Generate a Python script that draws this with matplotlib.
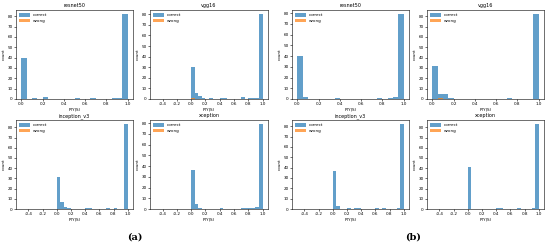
import numpy as np
import matplotlib
matplotlib.use("Agg")
import matplotlib.pyplot as plt

# 20 bins over P(Y|S) in [0, 1]
bin_edges = np.linspace(0, 1, 21)

titles = ["resnet50", "vgg16", "inception_v3", "xception"]

# panel (a): counts per bin, "correct"
a_resnet50 = [40, 0, 1, 0, 2, 0, 0, 0, 0, 0, 1, 0, 0, 1, 0, 0, 0, 1, 1, 82]
a_vgg16 = [30, 6, 3, 1, 0, 1, 0, 0, 1, 1, 0, 0, 0, 0, 2, 0, 1, 1, 1, 80]
a_inception = [31, 7, 2, 1, 0, 0, 0, 0, 1, 1, 0, 0, 0, 0, 1, 0, 1, 0, 0, 83]
a_xception = [36, 5, 1, 0, 0, 0, 0, 0, 1, 0, 0, 0, 0, 0, 1, 1, 1, 1, 2, 79]

# panel (b)
b_resnet50 = [40, 2, 0, 0, 0, 0, 0, 1, 0, 0, 0, 0, 0, 0, 0, 1, 0, 1, 2, 79]
b_vgg16 = [32, 5, 5, 1, 0, 0, 0, 0, 0, 0, 0, 0, 0, 0, 1, 0, 0, 0, 0, 82]
b_inception = [37, 3, 0, 0, 1, 0, 1, 1, 0, 0, 0, 0, 1, 0, 1, 0, 0, 0, 1, 82]
b_xception = [41, 0, 0, 0, 0, 0, 0, 0, 1, 1, 0, 0, 0, 0, 1, 0, 0, 0, 1, 83]

# "wrong" counts (almost empty)
a_wrong = [[0] * 20, [1] + [0] * 19, [0] * 20, [0] * 20]
b_wrong = [[0] * 20, [0, 1] + [0] * 18, [0] * 20, [0] * 20]

correct_a = [a_resnet50, a_vgg16, a_inception, a_xception]
correct_b = [b_resnet50, b_vgg16, b_inception, b_xception]

# x ranges: resnet50 / some vgg16 start at 0, others at -0.5
xmin_a = [0.0, -0.5, -0.5, -0.5]
xmin_b = [0.0, 0.0, -0.5, -0.5]

W, H = 550, 245
fig = plt.figure(figsize=(5.5, 2.45), dpi=100)

col_x = [(16, 133), (150, 268), (292, 409), (427, 544)]
row_y = [(10, 99), (120, 209)]

centers = (bin_edges[:-1] + bin_edges[1:]) / 2


def draw(ax, counts, wrong, title, xmin):
    ax.hist(centers, bins=bin_edges, weights=counts, alpha=0.7, color="C0", label="correct")
    ax.hist(centers, bins=bin_edges, weights=wrong, alpha=0.7, color="C1", label="wrong")
    span = 1.0 - xmin
    ax.set_xlim(xmin - 0.05 * span, 1.0 + 0.05 * span)
    ax.set_ylim(0, max(counts) * 1.05)
    ax.set_yticks(np.arange(0, 90, 10))
    if xmin < 0:
        ax.set_xticks(np.arange(-0.4, 1.01, 0.2))
    else:
        ax.set_xticks(np.arange(0, 1.01, 0.2))
    ax.xaxis.set_major_formatter(plt.FormatStrFormatter("%.1f"))
    ax.tick_params(labelsize=3, length=1.5, width=0.4, pad=1)
    for s in ax.spines.values():
        s.set_linewidth(0.4)
    ax.set_title(title, fontsize=3.5, pad=2)
    ax.set_xlabel("P(Y|S)", fontsize=3, labelpad=1)
    ax.set_ylabel("count", fontsize=3, labelpad=1)
    ax.legend(loc="upper left", fontsize=3, frameon=False, handlelength=2.5,
              handleheight=0.8, borderpad=0.3, labelspacing=0.3)


for p, (corr, wrong, xmins) in enumerate([(correct_a, a_wrong, xmin_a),
                                          (correct_b, b_wrong, xmin_b)]):
    for i in range(4):
        r, c = divmod(i, 2)
        x0, x1 = col_x[2 * p + c]
        y0, y1 = row_y[r]
        ax = fig.add_axes([x0 / W, 1 - y1 / H, (x1 - x0) / W, (y1 - y0) / H])
        draw(ax, corr[i], wrong[i], titles[i], xmins[i])

fig.text(135 / W, 1 - 237 / H, "(a)", ha="center", va="center", fontsize=7,
         fontweight="bold", family="DejaVu Serif")
fig.text(413 / W, 1 - 237 / H, "(b)", ha="center", va="center", fontsize=7,
         fontweight="bold", family="DejaVu Serif")

fig.savefig("out.png", dpi=100)
